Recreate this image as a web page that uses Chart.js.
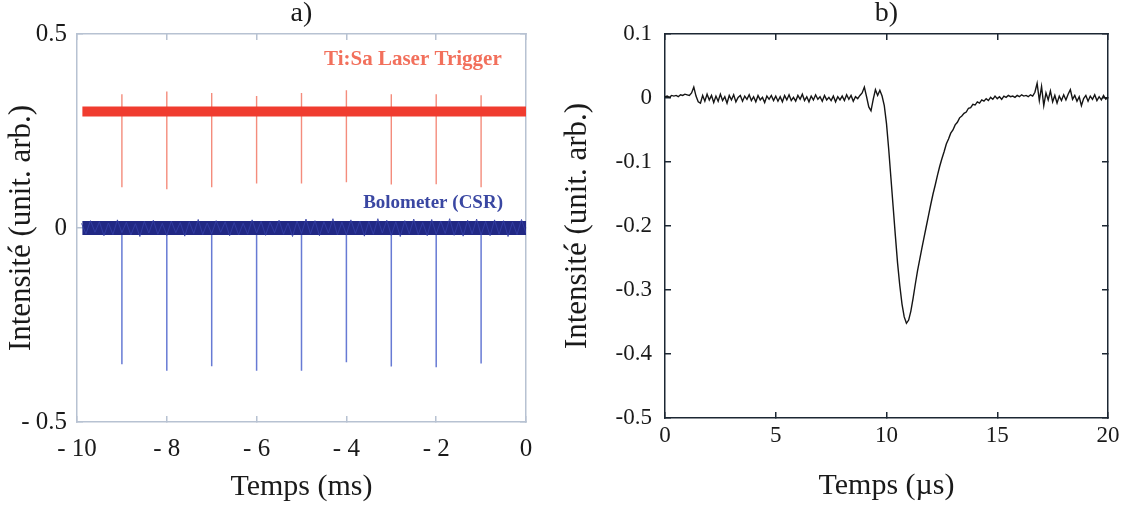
<!DOCTYPE html>
<html>
<head>
<meta charset="utf-8">
<title>Bolometer CSR signal</title>
<script src="https://cdn.jsdelivr.net/npm/chart.js@4.4.1/dist/chart.umd.min.js"></script>
<style>
  body { margin: 0; background: #fff; width: 1136px; height: 507px; position: relative; overflow: hidden; }
  #chart-a { position: absolute; left: 0; top: 0; }
  #chart-b { position: absolute; left: 555px; top: 0; }
</style>
</head>
<body>
<canvas id="chart-a" width="555" height="507"></canvas>
<canvas id="chart-b" width="581" height="507"></canvas>
<script>
// ---- panel a) : trigger / bolometer traces (ms) ----
const spikeTimes = [-9, -8, -7, -6, -5, -4, -3, -2, -1];
const redSpikeTop = [0.345, 0.352, 0.348, 0.340, 0.348, 0.355, 0.345, 0.345, 0.342];
const redSpikeBottom = [0.105, 0.100, 0.105, 0.115, 0.115, 0.118, 0.112, 0.113, 0.105];
const blueSpikeBottom = [-0.351, -0.368, -0.356, -0.368, -0.368, -0.346, -0.357, -0.359, -0.349];

const triggerLevel = 0.3;
const bandStart = -9.88;
const bandEnd = 0;

// bolometer noise, one sample every 0.1 ms starting at -9.9 ms
const noiseStart = -9.9;
const noiseStep = 0.1;
const bolometerNoise = [
  0.012, -0.015, 0.019, -0.011, 0.016, -0.02, 0.013, -0.017, 0.021, -0.012,
  0.015, -0.018, 0.011, -0.022, 0.017, -0.013, 0.02, -0.016, 0.012, -0.019,
  0.018, -0.012, 0.014, -0.021, 0.016, -0.014, 0.022, -0.017, 0.013, -0.015,
  0.019, -0.011, 0.016, -0.02, 0.014, -0.018, 0.012, -0.016, 0.021, -0.013,
  0.017, -0.019, 0.015, -0.012, 0.02, -0.016, 0.013, -0.022, 0.018, -0.014,
  0.023, -0.015, 0.019, -0.02, 0.016, -0.013, 0.024, -0.018, 0.015, -0.017,
  0.021, -0.014, 0.018, -0.021, 0.017, -0.016, 0.024, -0.013, 0.02, -0.019,
  0.016, -0.022, 0.019, -0.015, 0.023, -0.017, 0.014, -0.02, 0.022, -0.016,
  0.018, -0.014, 0.024, -0.019, 0.016, -0.021, 0.02, -0.015, 0.023, -0.018,
  0.017, -0.02, 0.021, -0.016, 0.019, -0.022, 0.015, -0.017, 0.022, -0.014
];

// ---- panel b) : single pulse (µs), one sample every 0.1 µs from 0 ----
const pulseStep = 0.1;
const pulseValues = [
  0.002, 0.003, 0.001, 0.004, 0.003, 0.004, 0.002, 0.005, 0.004, 0.006,
  0.005, 0.004, 0.008, 0.017, 0.003, -0.006, -0.008, 0.004, -0.005, 0.006,
  -0.003, 0.004, -0.007, 0.003, -0.005, 0.006, -0.004, 0.002, -0.008, 0.004,
  -0.003, 0.005, -0.006, 0.001, 0.004, -0.005, 0.003, -0.002, 0.005, -0.004,
  0.002, -0.006, 0.004, -0.003, 0.001, -0.007, 0.003, -0.002, 0.004, -0.004,
  0.003, -0.005, 0.002, -0.006, 0.004, -0.003, 0.005, -0.004, 0.001, -0.005,
  0.004, -0.002, 0.006, -0.004, 0.002, -0.006, 0.003, -0.003, 0.005, -0.002,
  0.002, -0.005, 0.004, -0.003, 0.001, -0.004, 0.003, -0.006, 0.002, -0.003,
  0.003, -0.004, 0.005, -0.002, 0.004, -0.005, 0.002, -0.001, 0.004, 0.008,
  0.017, 0.002, -0.014, -0.020, -0.002, 0.013, 0.004, 0.012, 0.003, -0.012,
  -0.040, -0.080, -0.125, -0.170, -0.215, -0.258, -0.293, -0.322, -0.342, -0.352,
  -0.347, -0.333, -0.313, -0.291, -0.270, -0.252, -0.234, -0.217, -0.200, -0.183,
  -0.166, -0.150, -0.136, -0.121, -0.107, -0.095, -0.084, -0.072, -0.064, -0.055,
  -0.050, -0.042, -0.038, -0.031, -0.028, -0.024, -0.022, -0.016, -0.015, -0.010,
  -0.011, -0.006, -0.008, -0.003, -0.005, -0.001, -0.004, 0.001, -0.002, 0.003,
  -0.001, 0.002, -0.002, 0.003, 0.001, 0.004, 0.002, 0.003, 0.001, 0.004,
  0.002, 0.005, 0.003, 0.004, 0.002, 0.005, 0.003, 0.009, 0.023, -0.004,
  0.018, -0.012, 0.008, -0.003, 0.011, -0.006, 0.004, -0.008, 0.003, -0.004,
  0.005, -0.003, 0.006, 0.013, -0.002, 0.004, -0.005, 0.002, -0.012, -0.001,
  0.004, -0.005, 0.003, -0.002, 0.005, -0.004, 0.002, -0.003, 0.004, -0.002,
  0.001
];

const serif = '"Liberation Serif", "Times New Roman", serif';
const textColor = '#1a1a1a';
const frameA = '#b7c2d2';
const frameB = '#1c2733';

// vertical segments separated by gaps
const spikes = (tops, bottoms) => {
  const pts = [];
  spikeTimes.forEach((t, i) => {
    pts.push({ x: t, y: tops[i] }, { x: t, y: bottoms[i] }, { x: t, y: null });
  });
  return pts;
};

const fixedSize = (size) => (scale) => {
  if (scale.isHorizontal()) scale.height = size;
  else scale.width = size;
};

const minusSpaced = (v) => (v < 0 ? '- ' + Math.abs(v) : String(v));

// draws the in-plot text labels at data coordinates
const inlineLabels = {
  id: 'inlineLabels',
  afterDatasetsDraw(chart, args, opts) {
    const { ctx, scales } = chart;
    (opts.items || []).forEach(item => {
      ctx.save();
      ctx.font = item.font;
      ctx.fillStyle = item.color;
      ctx.textAlign = 'center';
      ctx.textBaseline = 'middle';
      ctx.fillText(item.text, scales.x.getPixelForValue(item.x), scales.y.getPixelForValue(item.y));
      ctx.restore();
    });
  }
};

const frameScale = (position, color, extra) => Object.assign({
  type: 'linear',
  position: position,
  ticks: { display: false },
  grid: { drawOnChartArea: false, drawTicks: true, tickLength: -6, color: color, lineWidth: 1.5 },
  border: { display: true, color: color, width: 1.5 },
  afterFit: fixedSize(0)
}, extra);

const titleFont = { family: serif, size: 28, weight: 'normal', lineHeight: 1.0 };

// ---- chart a ----
new Chart(document.getElementById('chart-a'), {
  type: 'line',
  data: {
    datasets: [
      {
        label: 'Ti:Sa spikes',
        data: spikes(redSpikeTop, redSpikeBottom),
        borderColor: 'rgba(243, 128, 110, 0.9)',
        borderWidth: 1.4,
        spanGaps: false,
        order: 5
      },
      {
        label: 'Ti:Sa Laser Trigger',
        data: [{ x: bandStart, y: triggerLevel }, { x: bandEnd, y: triggerLevel }],
        borderColor: '#f03c2f',
        borderWidth: 10,
        borderCapStyle: 'butt',
        order: 4
      },
      {
        label: 'Bolometer spikes',
        data: spikes(spikeTimes.map(() => 0), blueSpikeBottom),
        borderColor: 'rgba(95, 115, 210, 0.95)',
        borderWidth: 1.5,
        spanGaps: false,
        order: 3
      },
      {
        label: 'Bolometer (CSR)',
        data: [{ x: bandStart, y: 0 }, { x: bandEnd, y: 0 }],
        borderColor: '#212884',
        borderWidth: 14,
        borderCapStyle: 'butt',
        order: 2
      },
      {
        label: 'Bolometer noise',
        data: bolometerNoise.map((v, i) => ({ x: noiseStart + i * noiseStep, y: v })),
        borderColor: 'rgba(52, 62, 165, 0.85)',
        borderWidth: 1,
        order: 1
      }
    ]
  },
  options: {
    responsive: false,
    animation: false,
    events: [],
    elements: { point: { radius: 0 }, line: { tension: 0 } },
    layout: { padding: { left: 0, right: 29, top: 0, bottom: 0 } },
    scales: {
      x: {
        type: 'linear', position: 'bottom', min: -10, max: 0,
        ticks: { stepSize: 2, autoSkip: false, maxRotation: 0, padding: 18, color: textColor,
                 font: { family: serif, size: 25 }, callback: minusSpaced },
        grid: { drawOnChartArea: false, drawTicks: true, tickLength: -6, color: frameA, lineWidth: 1.5 },
        border: { color: frameA, width: 1.5 },
        title: { display: true, text: 'Temps (ms)', color: textColor,
                 font: { family: serif, size: 30 }, padding: { top: 0, bottom: 2 } },
        afterFit: fixedSize(85)
      },
      x2: frameScale('top', frameA, { axis: 'x', min: -10, max: 0, ticks: { display: false, stepSize: 2 } }),
      y: {
        type: 'linear', position: 'left', min: -0.5, max: 0.5,
        ticks: { stepSize: 0.5, padding: 16, color: textColor,
                 font: { family: serif, size: 25 }, callback: minusSpaced },
        grid: { drawOnChartArea: false, drawTicks: true, tickLength: -6, color: frameA, lineWidth: 1.5 },
        border: { color: frameA, width: 1.5 },
        title: { display: true, text: 'Intensité (unit. arb.)', color: textColor,
                 font: { family: serif, size: 31 }, padding: { top: 3, bottom: 0 } },
        afterFit: fixedSize(77)
      },
      y2: frameScale('right', frameA, { axis: 'y', min: -0.5, max: 0.5, ticks: { display: false, stepSize: 0.5 } })
    },
    plugins: {
      legend: { display: false },
      tooltip: { enabled: false },
      title: { display: true, text: 'a)', color: textColor, fullSize: false,
               font: titleFont, padding: { top: 0, bottom: 6 } },
      inlineLabels: {
        items: [
          { text: 'Ti:Sa Laser Trigger', x: -2.52, y: 0.433, color: '#f2705c', font: 'bold 21px ' + serif },
          { text: 'Bolometer (CSR)', x: -2.07, y: 0.064, color: '#3a47a2', font: 'bold 19px ' + serif }
        ]
      }
    }
  },
  plugins: [inlineLabels]
});

// ---- chart b ----
new Chart(document.getElementById('chart-b'), {
  type: 'line',
  data: {
    datasets: [{
      label: 'Bolometer pulse',
      data: pulseValues.map((v, i) => ({ x: i * pulseStep, y: v })),
      borderColor: '#151515',
      borderWidth: 1.4
    }]
  },
  options: {
    responsive: false,
    animation: false,
    events: [],
    elements: { point: { radius: 0 }, line: { tension: 0 } },
    layout: { padding: { left: 0, right: 28, top: 0, bottom: 0 } },
    scales: {
      x: {
        type: 'linear', position: 'bottom', min: 0, max: 20,
        ticks: { stepSize: 5, autoSkip: false, maxRotation: 0, padding: 10, color: textColor,
                 font: { family: serif, size: 23 } },
        grid: { drawOnChartArea: false, drawTicks: true, tickLength: -6, color: frameB, lineWidth: 1.5 },
        border: { color: frameB, width: 1.5 },
        title: { display: true, text: 'Temps (µs)', color: textColor,
                 font: { family: serif, size: 30 }, padding: { top: 0, bottom: 3 } },
        afterFit: fixedSize(89)
      },
      x2: frameScale('top', frameB, { axis: 'x', min: 0, max: 20, ticks: { display: false, stepSize: 5 } }),
      y: {
        type: 'linear', position: 'left', min: -0.5, max: 0.1,
        ticks: { stepSize: 0.1, padding: 19, color: textColor,
                 font: { family: serif, size: 23 },
                 callback: (v) => (Math.abs(v) < 1e-9 ? '0' : v.toFixed(1)) },
        grid: { drawOnChartArea: false, drawTicks: true, tickLength: -6, color: frameB, lineWidth: 1.5 },
        border: { color: frameB, width: 1.5 },
        title: { display: true, text: 'Intensité (unit. arb.)', color: textColor,
                 font: { family: serif, size: 31 }, padding: { top: 4, bottom: 0 } },
        afterFit: fixedSize(110)
      },
      y2: frameScale('right', frameB, { axis: 'y', min: -0.5, max: 0.1, ticks: { display: false, stepSize: 0.1 } })
    },
    plugins: {
      legend: { display: false },
      tooltip: { enabled: false },
      title: { display: true, text: 'b)', color: textColor, fullSize: false,
               font: titleFont, padding: { top: 0, bottom: 6 } }
    }
  }
});
</script>
</body>
</html>
